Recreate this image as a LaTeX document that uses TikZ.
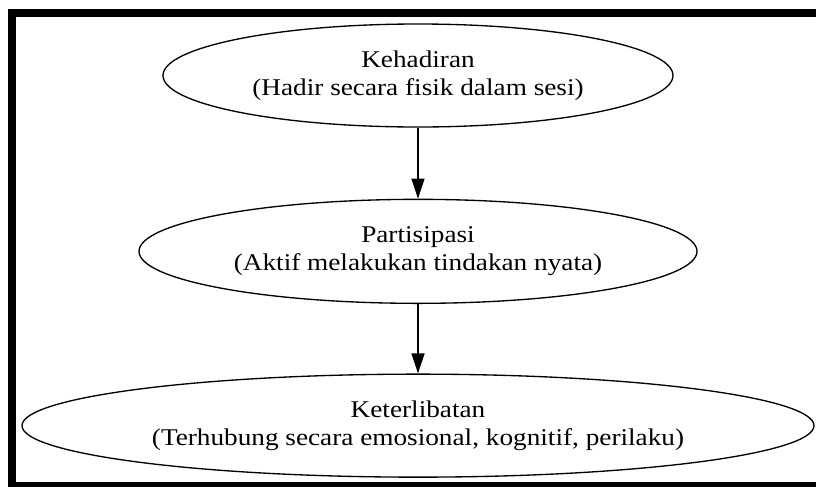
\documentclass[tikz,border=0pt]{standalone}
\usepackage{fontspec}
\setmainfont{Liberation Serif}[FakeStretch=1.135]
\usetikzlibrary{arrows.meta, positioning, shapes.geometric}

\begin{document}
\begin{tikzpicture}[
            x=0.75pt, y=-0.75pt,
            stage/.style={ellipse, draw=black, line width=1pt, inner sep=0pt,
            font=\fontsize{18}{21}\selectfont, align=center},
            flow/.style={draw, line width=1pt, -{Triangle[length=15pt, width=9.75pt]}},
            frame/.style={draw=black, line width=5.8pt}
        ]

\useasboundingbox (0,0) rectangle (816,486);
\clip (0,0) rectangle (816,486);

% ----- Rahmen -----
            \draw[frame] (12,13.25) rectangle (830,485.9);

% ----- Knoten (vertikale Kette) -----
            \node[stage, minimum width=382.5pt, minimum height=77.25pt] (kehadiran) at (418,75.5)
                {Kehadiran\\(Hadir secara fisik dalam sesi)};
            \node[stage, minimum width=418.5pt, minimum height=78pt, below=53.25pt of kehadiran] (partisipasi)
                {Partisipasi\\(Aktif melakukan tindakan nyata)};
            \node[stage, minimum width=594pt, minimum height=77.25pt, below=52.1pt of partisipasi] (keterlibatan)
                {Keterlibatan\\(Terhubung secara emosional, kognitif, perilaku)};

% ----- Kanten -----
            \draw[flow] (kehadiran) -- (partisipasi);
            \draw[flow] (partisipasi) -- (keterlibatan);

        \end{tikzpicture}
\end{document}
